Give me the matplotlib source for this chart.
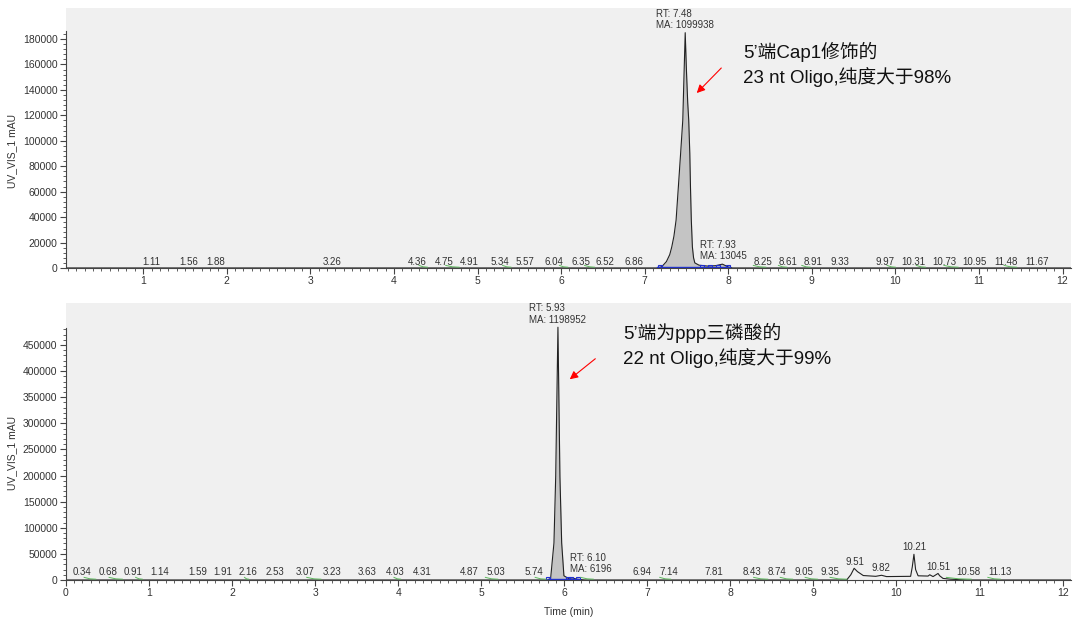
import numpy as np
import matplotlib
matplotlib.use('Agg')
import matplotlib.pyplot as plt
from matplotlib.ticker import FixedLocator

plt.rcParams['font.family'] = ['Liberation Sans', 'Noto Sans CJK SC', 'DejaVu Sans']

# %% data
# top run: Cap1 oligo
top_time = [0.075, 7.15, 7.205, 7.26, 7.30, 7.324, 7.35, 7.376, 7.403, 7.43, 7.456, 7.47,
            7.485, 7.50, 7.515, 7.527, 7.54, 7.548, 7.558, 7.571, 7.585, 7.60, 7.65, 7.75,
            7.85, 7.93, 8.00, 8.05, 12.1]
top_signal = [0, 0, 1000, 5000, 10500, 16500, 25000, 37700, 63700, 90000, 116300, 150000,
              185000, 155000, 130000, 116300, 90000, 63700, 37700, 16500, 8000, 4000, 2200, 1500,
              1800, 3000, 800, 0, 0]
top_rt = ['1.11', '1.56', '1.88', '3.26', '4.36', '4.75', '4.91', '5.34', '5.57', '6.04',
          '6.35', '6.52', '6.86', '8.25', '8.61', '8.91', '9.33', '9.97', '10.31', '10.73',
          '10.95', '11.48', '11.67']
top_rt_x = [1.10, 1.55, 1.87, 3.26, 4.28, 4.60, 4.90, 5.27, 5.57, 5.92,
            6.24, 6.53, 6.87, 8.42, 8.72, 9.02, 9.34, 9.87, 10.21, 10.59,
            10.94, 11.32, 11.69]
top_green = [(4.30, 4.40), (4.62, 4.78), (5.30, 5.40), (5.98, 6.08), (6.28, 6.40),
             (8.30, 8.45), (8.60, 8.70), (8.88, 8.98), (9.90, 10.00), (10.25, 10.36),
             (10.58, 10.75), (11.30, 11.45)]
top_blue = [7.18, 7.68, 7.78, 7.88, 8.00]

# bottom run: ppp oligo
bot_time = [0, 5.80, 5.836, 5.876, 5.897, 5.924, 5.948, 5.969, 5.996, 6.05, 6.10, 6.15,
            6.25, 9.40, 9.45, 9.49, 9.53, 9.60, 9.75, 9.82, 9.88, 10.17, 10.19, 10.21,
            10.23, 10.26, 10.38, 10.40, 10.44, 10.50, 10.52, 10.56, 10.65, 10.85, 12.1]
bot_signal = [0, 0, 3000, 70900, 197800, 484000, 197800, 70900, 8000, 3000, 4000, 1500,
              0, 0, 10000, 22400, 16000, 8500, 7000, 9000, 6500, 7000, 25000, 49200,
              20000, 8000, 7500, 10000, 6500, 12500, 8000, 3000, 1500, 0, 0]
bot_rt = ['0.34', '0.68', '0.91', '1.14', '1.59', '1.91', '2.16', '2.53', '3.07', '3.23',
          '3.63', '4.03', '4.31', '4.87', '5.03', '5.74', '6.94', '7.14', '7.81', '8.43',
          '8.74', '9.05', '9.35', '9.51', '9.82', '10.21', '10.51', '10.58', '11.13']
bot_rt_x = [0.20, 0.51, 0.81, 1.135, 1.585, 1.886, 2.19, 2.515, 2.88, 3.21,
            3.63, 3.97, 4.29, 4.85, 5.175, 5.63, 6.94, 7.26, 7.80, 8.26,
            8.56, 8.88, 9.20, 9.50, 9.81, 10.21, 10.50, 10.87, 11.25]
bot_rt_y = [16000] * 23 + [35000, 23500, 62600, 25500, 16000, 16000]
bot_green = [(0.22, 0.36), (0.52, 0.68), (0.84, 0.92), (2.15, 2.20), (2.90, 3.07),
             (3.95, 4.03), (5.05, 5.20), (5.65, 5.78), (6.20, 6.35), (7.15, 7.28),
             (8.28, 8.45), (8.60, 8.75), (8.90, 9.05), (9.20, 9.40), (10.60, 10.90),
             (11.10, 11.25)]
bot_blue = [5.80, 6.04, 6.08, 6.16]

fig = plt.figure(figsize=(10.8, 6.17), dpi=100)
ax1 = fig.add_axes([0.061, 0.5657, 0.9306, 0.4213])
ax2 = fig.add_axes([0.061, 0.060, 0.9306, 0.449])

tick_color = '#333333'
for ax in (ax1, ax2):
    ax.set_facecolor('#f0f0f0')
    ax.spines['top'].set_visible(False)
    ax.spines['right'].set_visible(False)
    ax.spines['left'].set_color('#444444')
    ax.spines['bottom'].set_color('#444444')
    ax.tick_params(which='major', length=4, width=0.8, color='#444444',
                   labelsize=7.5, labelcolor=tick_color, pad=2)
    ax.tick_params(which='minor', length=2.5, width=0.6, color='#444444')
    ax.set_ylabel('UV_VIS_1 mAU', fontsize=7.5, color=tick_color)

# %% top panel
ax1.fill_between(top_time, top_signal, color='#c4c4c4', lw=0)
ax1.plot(top_time, top_signal, color='#222222', lw=0.8)
ax1.plot([7.15, 8.02], [400, 400], color='#2030d0', lw=1)
ax1.plot(top_blue, [900] * len(top_blue), 's', mfc='none', mec='#2030d0', ms=3.5, mew=0.8)
for a, b in top_green:
    ax1.plot([a, (a + b) / 2, b], [2000, 900, 600], color='#5cb85c', lw=0.7)
for lab, x in zip(top_rt, top_rt_x):
    ax1.text(x, 5000, lab, ha='center', va='center', fontsize=7, color=tick_color)
ax1.text(7.14, 199600, 'RT: 7.48', ha='left', va='center', fontsize=7, color=tick_color)
ax1.text(7.14, 191000, 'MA: 1099938', ha='left', va='center', fontsize=7, color=tick_color)
ax1.text(7.66, 18000, 'RT: 7.93', ha='left', va='center', fontsize=7, color=tick_color)
ax1.text(7.66, 9400, 'MA: 13045', ha='left', va='center', fontsize=7, color=tick_color)
ax1.text(8.18, 169800, '5’端Cap1修饰的', fontsize=13.5, va='center', color='#111111')
ax1.text(8.18, 150100, '23 nt Oligo,纯度大于98%', fontsize=13.5, va='center', color='#111111')
ax1.annotate('', xy=(7.60, 136000), xytext=(7.94, 158800),
             arrowprops=dict(arrowstyle='-|>', color='red', lw=0.8, mutation_scale=12))

ax1.set_xlim(0.075, 12.1)
ax1.set_ylim(0, 204400)
ax1.spines['left'].set_bounds(0, 186000)
ax1.set_xticks(np.arange(1, 13))
ax1.xaxis.set_minor_locator(FixedLocator(np.arange(0.1, 12.1, 0.1)))
ax1.set_yticks(np.arange(0, 180001, 20000))
ax1.yaxis.set_minor_locator(FixedLocator(np.arange(0, 186001, 4000)))
ax1.yaxis.set_label_coords(-0.0488, 0.45)

# %% bottom panel
ax2.fill_between(bot_time, bot_signal, color='#c4c4c4', lw=0, where=[5.7 < t < 6.3 for t in bot_time])
ax2.plot(bot_time, bot_signal, color='#222222', lw=0.8)
ax2.plot([5.80, 6.18], [1000, 1000], color='#2030d0', lw=1)
ax2.plot(bot_blue, [2500] * len(bot_blue), 's', mfc='none', mec='#2030d0', ms=3.5, mew=0.8)
for a, b in bot_green:
    ax2.plot([a, (a + b) / 2, b], [5000, 2200, 1500], color='#5cb85c', lw=0.7)
for lab, x, y in zip(bot_rt, bot_rt_x, bot_rt_y):
    ax2.text(x, y, lab, ha='center', va='center', fontsize=7, color=tick_color)
ax2.text(5.57, 520000, 'RT: 5.93', ha='left', va='center', fontsize=7, color=tick_color)
ax2.text(5.57, 498000, 'MA: 1198952', ha='left', va='center', fontsize=7, color=tick_color)
ax2.text(6.07, 41500, 'RT: 6.10', ha='left', va='center', fontsize=7, color=tick_color)
ax2.text(6.07, 20500, 'MA: 6196', ha='left', va='center', fontsize=7, color=tick_color)
ax2.text(6.71, 473000, '5’端为ppp三磷酸的', fontsize=13.5, va='center', color='#111111')
ax2.text(6.71, 425100, '22 nt Oligo,纯度大于99%', fontsize=13.5, va='center', color='#111111')
ax2.annotate('', xy=(6.04, 381000), xytext=(6.40, 427000),
             arrowprops=dict(arrowstyle='-|>', color='red', lw=0.8, mutation_scale=12))

ax2.set_xlim(0, 12.1)
ax2.set_ylim(0, 530500)
ax2.spines['left'].set_bounds(0, 482000)
ax2.set_xticks(np.arange(0, 13))
ax2.xaxis.set_minor_locator(FixedLocator(np.arange(0.1, 12.1, 0.1)))
ax2.set_yticks(np.arange(0, 450001, 50000))
ax2.yaxis.set_minor_locator(FixedLocator(np.arange(0, 482001, 10000)))
ax2.yaxis.set_label_coords(-0.0488, 0.46)
ax2.set_xlabel('Time (min)', fontsize=7.5, color=tick_color)
ax2.xaxis.set_label_coords(0.5, -0.097)

fig.savefig('out.png', dpi=100)
